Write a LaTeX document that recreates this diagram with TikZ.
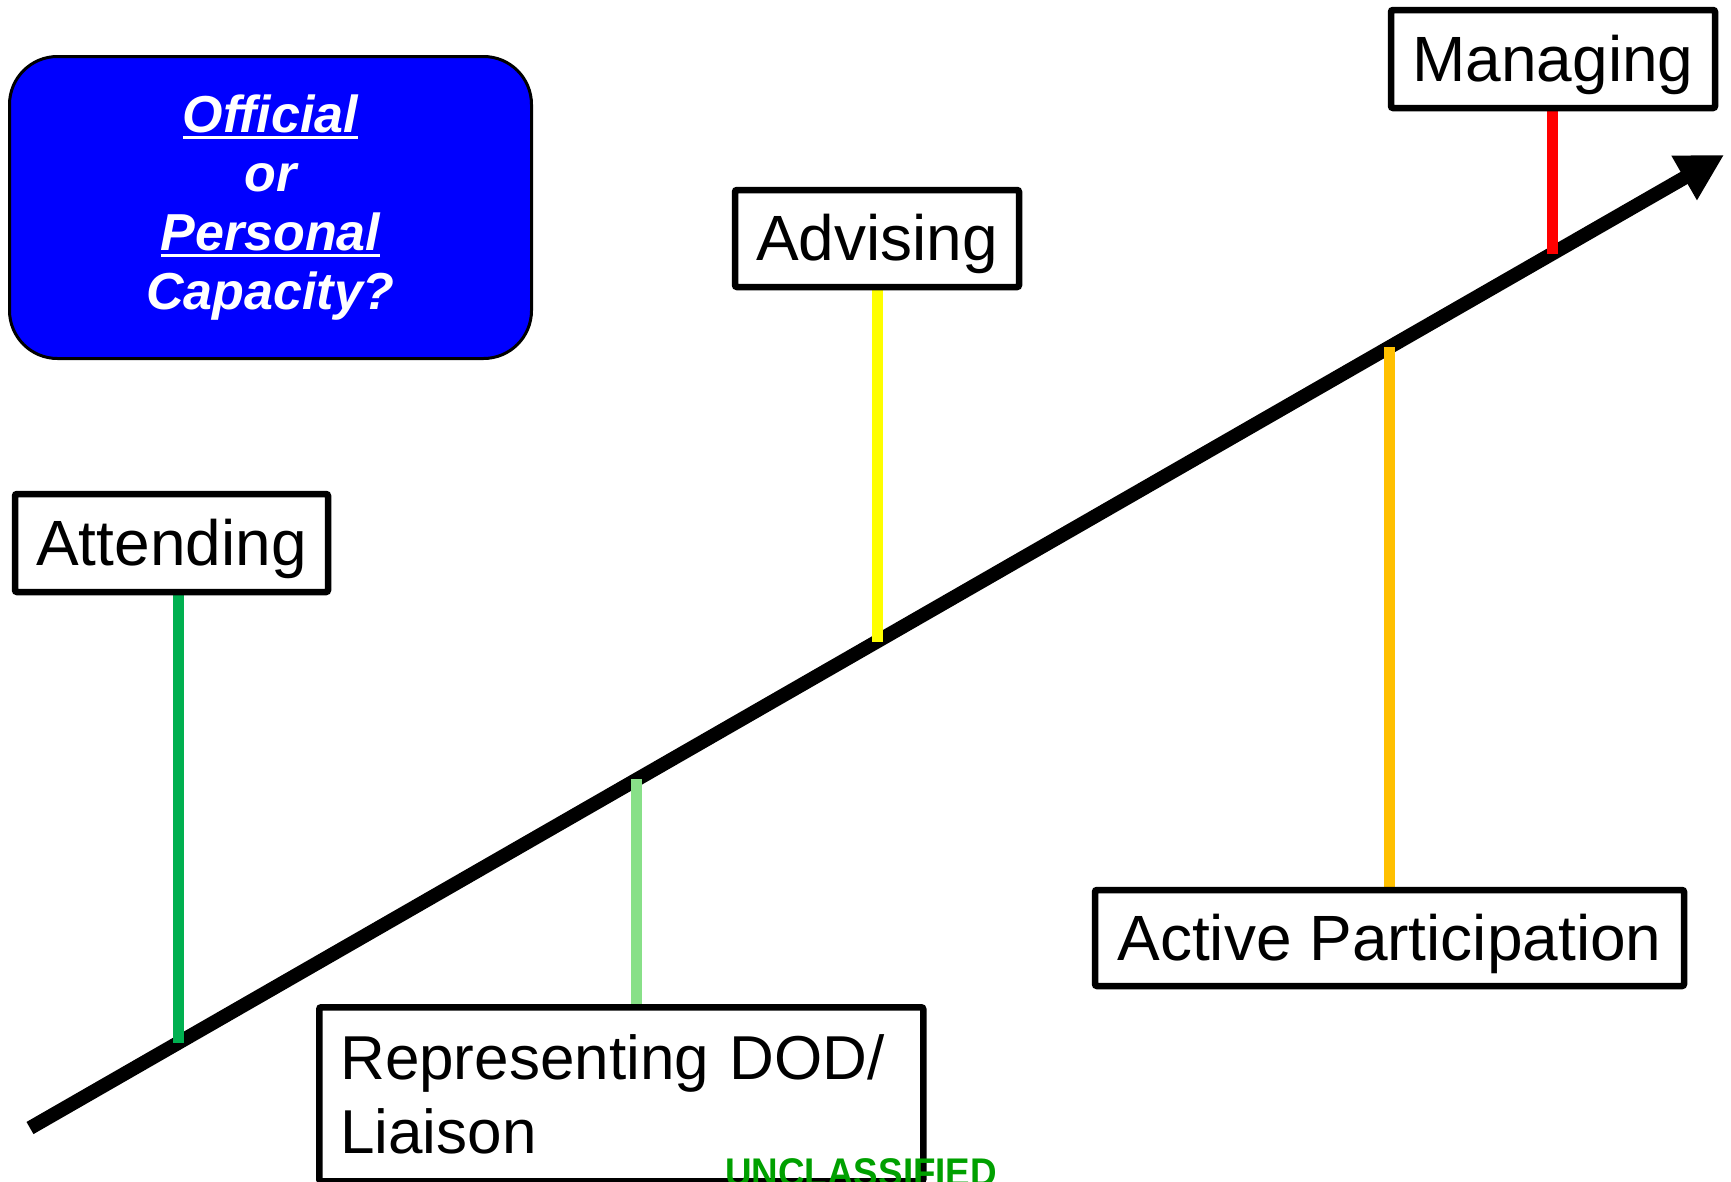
\documentclass[tikz,border=0pt]{standalone}
\usepackage{fontspec}
\setmainfont{Liberation Sans}
\usetikzlibrary{arrows.meta,backgrounds}
\definecolor{capblue}{HTML}{0000FF}
\definecolor{attgreen}{HTML}{00B050}
\definecolor{repgreen}{HTML}{88E088}
\definecolor{advyellow}{HTML}{FFFF00}
\definecolor{actorange}{HTML}{FFC000}
\definecolor{mgred}{HTML}{FF0000}
\definecolor{classgreen}{HTML}{00A000}
\newcommand\uword[1]{\setbox0\hbox{#1}\rlap{\rule[-7pt]{\wd0}{3.5pt}}\box0}

\begin{document}
\begin{tikzpicture}[x=1pt,y=-1pt,
  stagebox/.style={draw=black, line width=6.5pt, fill=white, rounded corners=2pt, inner sep=0pt, align=center, text height=56pt, text depth=12pt, font=\fontsize{64}{76}\selectfont},
  capbox/.style={draw=black, line width=3pt, fill=capblue, rounded corners=48pt, text=white, align=center, font=\fontsize{52}{59}\selectfont\bfseries\itshape},
  stem/.style={line width=11pt, color=#1},
  axis/.style={line width=14pt, -{Triangle[length=46pt,width=48pt]}},
  classmark/.style={font=\fontsize{40}{48}\selectfont\bfseries, text=classgreen, inner sep=0pt},
]
\useasboundingbox (0,0) rectangle (1731,1181);

% question box
\node[capbox, minimum width=522pt, minimum height=302pt] (cap) at (270.5,207.5) {\uword{Official}\\or\\\uword{Personal}\\Capacity?};

% stages
\node[stagebox, minimum width=313pt, minimum height=98pt] (att) at (171.5,543) {Attending};
\node[stagebox, align=left, text height=, text depth=, font=\fontsize{62}{74}\selectfont, text width=562pt, minimum width=604pt, minimum height=174pt, anchor=north west] (rep) at (316,1004) {Representing DOD/\\Liaison};
\node[stagebox, minimum width=284pt, minimum height=97pt] (adv) at (877,238.5) {Advising};
\node[stagebox, minimum width=589pt, minimum height=96pt] (act) at (1389.5,938) {Active Participation};
\node[stagebox, minimum width=324pt, minimum height=98pt] (mgr) at (1553,59) {Managing};

\begin{scope}[on background layer]
\coordinate (start) at (30,1128); \coordinate (tip) at (1724,155);
\draw[axis] (start) -- coordinate[pos=0.0874] (p1) coordinate[pos=0.3583] (p2) coordinate[pos=0.5] (p3) coordinate[pos=0.8028] (p4) coordinate[pos=0.8985] (p5) (tip);
\draw[stem=attgreen] (p1 |- att.south) -- (p1);
\draw[stem=repgreen] (p2 |- rep.north) -- (p2);
\draw[stem=advyellow] (p3 |- adv.south) -- (p3);
\draw[stem=actorange] (p4 |- act.north) -- (p4);
\draw[stem=mgred] (p5 |- mgr.south) -- (p5);
\end{scope}

\node[classmark, anchor=base west, xscale=0.92] (cls) at (725,1186) {UNCLASSIFIED};
\end{tikzpicture}
\end{document}
